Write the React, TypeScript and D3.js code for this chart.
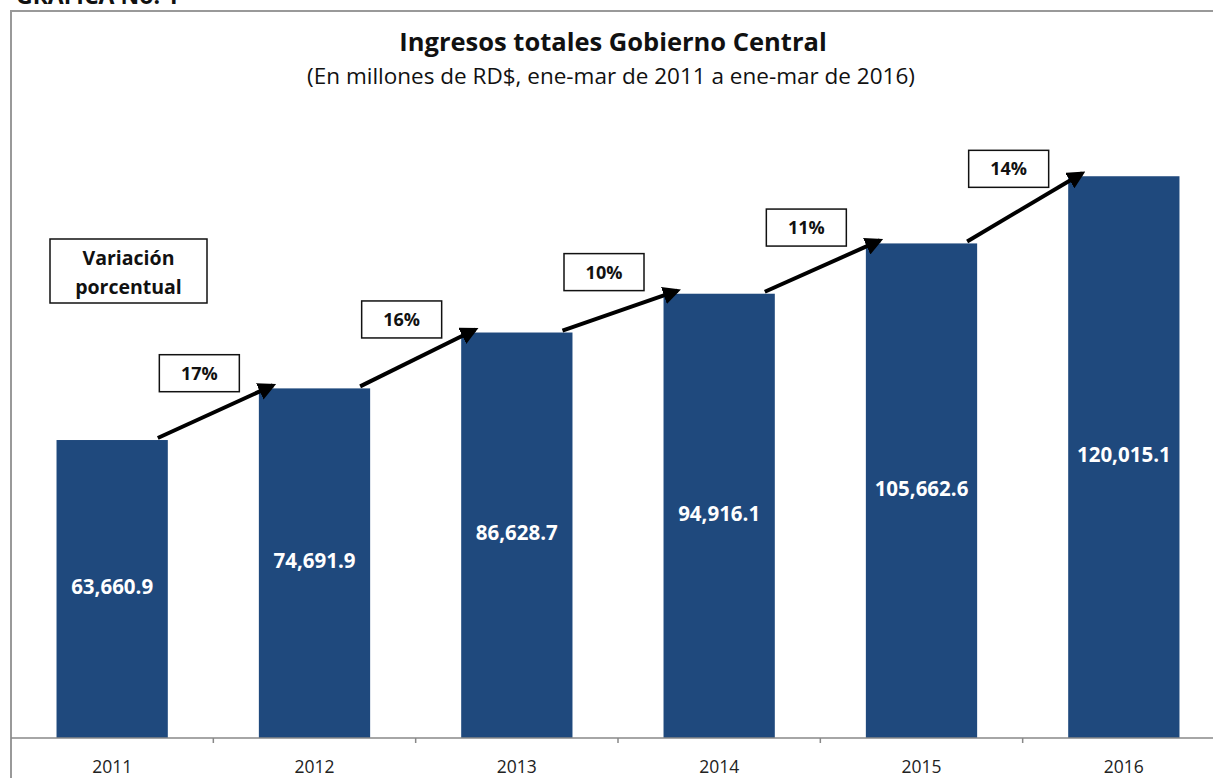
import React from 'react';
import * as d3 from 'd3';

const years = ['2011', '2012', '2013', '2014', '2015', '2016'];
const ingresos = [63660.9, 74691.9, 86628.7, 94916.1, 105662.6, 120015.1];
const variacion = ['17%', '16%', '10%', '11%', '14%'];

const W = 1213;
const H = 778;
const FONT = '"Open Sans", "DejaVu Sans", sans-serif';
const BAR = '#1f497d';

export default function App() {
  const x = d3.scaleBand().domain(years).range([11, 1225]).paddingInner(0.45).paddingOuter(0.225);
  const y = d3.scaleLinear().domain([0, 140000]).range([738, 82.7]);
  const fmt = d3.format(',.1f');
  const bw = x.bandwidth();

  // flechas entre barras consecutivas
  const arrows = variacion.map((v, i) => {
    const x1 = (x(years[i]) as number) + bw - 10;
    const y1 = y(ingresos[i]) - 2;
    const x2 = (x(years[i + 1]) as number) + 14;
    const y2 = y(ingresos[i + 1]) - 3;
    return { v, x1, y1, x2, y2, mx: (x1 + x2) / 2, my: (y1 + y2) / 2 };
  });

  return (
    <svg width={W} height={H} style={{ position: 'absolute', left: 0, top: 0, background: '#fff' }} fontFamily={FONT}>
      <defs>
        <marker id="head" viewBox="0 0 10 10" refX="8" refY="5" markerWidth="4.5" markerHeight="4.5" orient="auto">
          <path d="M0,0 L10,5 L0,10 z" fill="#000" />
        </marker>
      </defs>
      <text x={16} y={4} fontSize={23} fontWeight="bold" fill="#111">GRAFICA No. 1</text>
      <rect x={11} y={11} width={1240} height={800} fill="#fff" stroke="#999" strokeWidth={2} />

      <text x={613} y={51} textAnchor="middle" fontSize={25.5} fontWeight="bold" fill="#111">
        Ingresos totales Gobierno Central
      </text>
      <text x={611} y={84} textAnchor="middle" fontSize={22.5} fill="#111">
        (En millones de RD$, ene-mar de 2011 a ene-mar de 2016)
      </text>

      {years.map((yr, i) => (
        <rect key={yr} x={x(yr)} y={y(ingresos[i])} width={bw} height={y(0) - y(ingresos[i])} fill={BAR} />
      ))}
      {years.map((yr, i) => (
        <text key={'v' + yr} x={(x(yr) as number) + bw / 2} y={(y(ingresos[i]) + y(0)) / 2 + 5}
          textAnchor="middle" fontSize={20.5} fontWeight="bold" fill="#fff">
          {fmt(ingresos[i])}
        </text>
      ))}

      <line x1={11} x2={W} y1={y(0)} y2={y(0)} stroke="#888" strokeWidth={1.5} />
      {years.slice(1).map(yr => (
        <line key={'t' + yr} x1={x(yr) as number - x.step() * 0.225} x2={x(yr) as number - x.step() * 0.225}
          y1={y(0)} y2={y(0) + 5} stroke="#888" strokeWidth={1.5} />
      ))}
      {years.map(yr => (
        <text key={'l' + yr} x={(x(yr) as number) + bw / 2} y={773} textAnchor="middle" fontSize={17.5} fill="#222">
          {yr}
        </text>
      ))}

      {arrows.map(a => (
        <g key={a.v}>
          <line x1={a.x1} y1={a.y1} x2={a.x2} y2={a.y2} stroke="#000" strokeWidth={4} markerEnd="url(#head)" />
          <rect x={a.mx - 16 - 40} y={a.my - 57} width={80} height={37} fill="#fff" stroke="#111" strokeWidth={1.5} />
          <text x={a.mx - 16} y={a.my - 32} textAnchor="middle" fontSize={18} fontWeight="bold" fill="#111">{a.v}</text>
        </g>
      ))}

      <rect x={50} y={239} width={157} height={64} fill="#fff" stroke="#111" strokeWidth={1.5} />
      <text x={128.5} y={265} textAnchor="middle" fontSize={19.5} fontWeight="bold" fill="#111">Variación</text>
      <text x={128.5} y={294} textAnchor="middle" fontSize={19.5} fontWeight="bold" fill="#111">porcentual</text>
    </svg>
  );
}
